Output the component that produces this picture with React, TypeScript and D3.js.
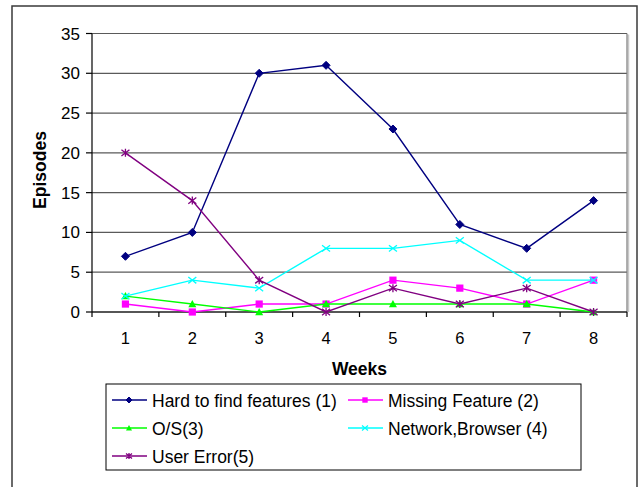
import React from "react";
import * as d3 from "d3";

const weeks = ["1", "2", "3", "4", "5", "6", "7", "8"];
const yTicks = [0, 5, 10, 15, 20, 25, 30, 35];
const hardToFind = [7, 10, 30, 31, 23, 11, 8, 14];
const missingFeature = [1, 0, 1, 1, 4, 3, 1, 4];
const osIssues = [2, 1, 0, 1, 1, 1, 1, 0];
const networkBrowser = [2, 4, 3, 8, 8, 9, 4, 4];
const userError = [20, 14, 4, 0, 3, 1, 3, 0];

const seriesNames = [
  "Hard to find features (1)",
  "Missing Feature (2)",
  "O/S(3)",
  "Network,Browser (4)",
  "User Error(5)",
];
const seriesColors = ["#000080", "#FF00FF", "#00FF00", "#00FFFF", "#800080"];
const seriesMarkers = ["diamond", "square", "triangle", "x", "star"];
const seriesValues = [hardToFind, missingFeature, osIssues, networkBrowser, userError];

const FONT = "Arial, 'Liberation Sans', Helvetica, sans-serif";

function Marker({ type, x, y, color, s }: { type: string; x: number; y: number; color: string; s: number }) {
  if (type === "diamond") {
    const p = `M${x},${y - s} L${x + s},${y} L${x},${y + s} L${x - s},${y} Z`;
    return <path d={p} fill={color} stroke={color} strokeWidth={1} />;
  }
  if (type === "square") {
    return <rect x={x - s * 0.9} y={y - s * 0.9} width={s * 1.8} height={s * 1.8} fill={color} />;
  }
  if (type === "triangle") {
    const p = `M${x},${y - s} L${x + s},${y + s * 0.8} L${x - s},${y + s * 0.8} Z`;
    return <path d={p} fill={color} />;
  }
  if (type === "x") {
    const p = `M${x - s},${y - s * 0.8} L${x + s},${y + s * 0.8} M${x + s},${y - s * 0.8} L${x - s},${y + s * 0.8}`;
    return <path d={p} stroke={color} strokeWidth={1.3} fill="none" />;
  }
  // star: x plus vertical line
  const p = `M${x - s},${y - s * 0.8} L${x + s},${y + s * 0.8} M${x + s},${y - s * 0.8} L${x - s},${y + s * 0.8} M${x},${y - s} L${x},${y + s}`;
  return <path d={p} stroke={color} strokeWidth={1.3} fill="none" />;
}

export default function App() {
  const left = 92;
  const right = 627;
  const top = 33.5;
  const bottom = 312;

  const x = d3.scaleBand<string>().domain(weeks).range([left, right]).padding(0);
  const y = d3.scaleLinear().domain([0, 35]).range([bottom, top]);
  const cx = (w: string) => (x(w) as number) + x.bandwidth() / 2;

  const line = d3
    .line<number>()
    .x((_, i) => cx(weeks[i]))
    .y((v) => y(v));

  const boundaries = weeks.map((w) => x(w) as number).concat([right]);

  const legendItems = seriesNames.map((name, i) => {
    const col = i % 2;
    const row = Math.floor(i / 2);
    const lx = col === 0 ? 112 : 348;
    const ly = 400 + row * 28;
    return { name, i, lx, ly };
  });

  return (
    <svg
      width={639}
      height={487}
      style={{ position: "absolute", left: 0, top: 0, background: "#fff" }}
      fontFamily={FONT}
    >
      <rect x={0} y={0} width={639} height={487} fill="#fff" />
      {/* outer frame */}
      <rect x={12} y={6} width={625} height={500} fill="none" stroke="#3a3a3a" strokeWidth={1.5} />

      {/* plot area right shadow */}
      <line x1={right + 1.5} x2={right + 1.5} y1={top + 1} y2={bottom} stroke="#c8c8c8" strokeWidth={1.5} />
      {/* gridlines */}
      {yTicks.map((t) => (
        <line key={t} x1={left} x2={right} y1={y(t)} y2={y(t)} stroke="#5a5a5a" strokeWidth={1.2} />
      ))}
      <line x1={right} x2={right} y1={top} y2={bottom} stroke="#7a7a7a" strokeWidth={1.2} />

      {/* axes */}
      <line x1={left} x2={left} y1={top} y2={bottom} stroke="#000" strokeWidth={1.2} />
      <line x1={left} x2={right} y1={bottom} y2={bottom} stroke="#000" strokeWidth={1.2} />
      {yTicks.map((t) => (
        <line key={"yt" + t} x1={left - 6} x2={left} y1={y(t)} y2={y(t)} stroke="#000" strokeWidth={1.2} />
      ))}
      {boundaries.map((b, i) => (
        <line key={"xt" + i} x1={b} x2={b} y1={bottom} y2={bottom + 5} stroke="#000" strokeWidth={1.2} />
      ))}

      {/* y tick labels */}
      {yTicks.map((t) => (
        <text key={"yl" + t} x={80} y={y(t) + 6} textAnchor="end" fontSize={17} fill="#000">
          {t}
        </text>
      ))}
      {/* x tick labels */}
      {weeks.map((w) => (
        <text key={"xl" + w} x={cx(w)} y={344} textAnchor="middle" fontSize={16.5} fill="#000">
          {w}
        </text>
      ))}

      {/* axis titles */}
      <text x={(left + right) / 2} y={374.5} textAnchor="middle" fontSize={17.5} fontWeight="bold">
        Weeks
      </text>
      <text
        transform={`translate(46,170) rotate(-90)`}
        textAnchor="middle"
        fontSize={17.5}
        fontWeight="bold"
      >
        Episodes
      </text>

      {/* series */}
      {seriesValues.map((vals, si) => (
        <g key={"s" + si}>
          <path d={line(vals) || ""} fill="none" stroke={seriesColors[si]} strokeWidth={1.4} />
          {vals.map((v, i) => (
            <Marker
              key={i}
              type={seriesMarkers[si]}
              x={cx(weeks[i])}
              y={y(v)}
              color={seriesColors[si]}
              s={si === 0 ? 4 : 4}
            />
          ))}
        </g>
      ))}

      {/* legend */}
      <rect x={106} y={384} width={475} height={86} fill="#fff" stroke="#000" strokeWidth={1} />
      {legendItems.map(({ name, i, lx, ly }) => (
        <g key={"lg" + i}>
          <line x1={lx} x2={lx + 35} y1={ly} y2={ly} stroke={seriesColors[i]} strokeWidth={1.4} />
          <Marker type={seriesMarkers[i]} x={lx + 17} y={ly} color={seriesColors[i]} s={3} />
          <text x={lx + 40} y={ly + 6.5} fontSize={17.5} fill="#000" textLength={undefined}>
            {name}
          </text>
        </g>
      ))}
    </svg>
  );
}
